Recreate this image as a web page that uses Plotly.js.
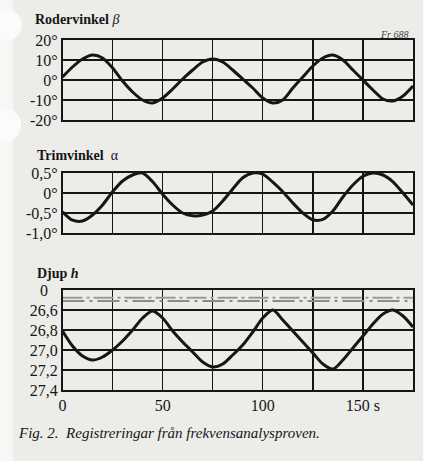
<!DOCTYPE html>
<html>
<head>
<meta charset="utf-8">
<script src="https://cdn.plot.ly/plotly-3.0.1.min.js"></script>
<style>html,body{margin:0;padding:0;background:#ecece9;}</style>
</head>
<body>
<div id="chart" style="width:423px;height:461px;"></div>
<script>
// time axis (s)
const time = [0,5,10,15,20,25,30,35,40,45,50,55,60,65,70,75,80,85,90,95,100,105,110,115,120,125,130,135,140,145,150,155,160,165,170,175];
// Rodervinkel beta (degrees)
const rudder = [1.5,6.5,10.5,12.5,11,6,-0.5,-6,-10,-11.5,-9,-4.5,0.5,5,9,10.5,9,5,0.5,-4,-9,-11.5,-10,-4,1.5,7,11,12.5,10,5,0,-5,-9.5,-10.5,-8,-3];
// Trimvinkel alpha (degrees)
const trim = [-0.47,-0.68,-0.7,-0.55,-0.3,0.03,0.3,0.45,0.5,0.28,-0.03,-0.3,-0.5,-0.57,-0.55,-0.45,-0.2,0.1,0.38,0.5,0.47,0.27,0.03,-0.25,-0.5,-0.67,-0.66,-0.45,-0.1,0.2,0.42,0.5,0.45,0.28,0.0,-0.3];
// Djup h (m)
const depth = [26.81,26.96,27.06,27.10,27.07,27.00,26.91,26.80,26.68,26.61,26.68,26.81,26.92,27.02,27.12,27.17,27.14,27.05,26.95,26.82,26.68,26.60,26.70,26.81,26.92,27.03,27.14,27.19,27.10,26.98,26.86,26.74,26.64,26.60,26.66,26.77];
// reference (surface) dashed lines in depth panel
const refLevels = [26.477, 26.51];

const timeTicks = [0,25,50,75,100,125,150,175];
const timeLabels = ['0','','50','','100','','150 s',''];
const rudderTicks = [-20,-10,0,10,20];
const rudderLabels = ['-20°','-10°','0°','10°','20°'];
const trimTicks = [-1,-0.5,0,0.5];
const trimLabels = ['-1,0°','-0,5°','0°','0,5°'];
const depthTicks = [26.6,26.8,27.0,27.2,27.4];
const depthLabels = ['26,6','26,8','27,0','27,2','27,4'];

const W = 423, H = 461;
const px = v => v / W;
const py = v => 1 - v / H;
const ink = '#161616';
const serif = "'Liberation Serif', 'Times New Roman', serif";

const curve = {color: ink, width: 3, shape: 'spline', smoothing: 0.8};
const traces = [
  {x: time, y: rudder, xaxis: 'x', yaxis: 'y', mode: 'lines', line: curve, hoverinfo: 'skip'},
  {x: time, y: trim, xaxis: 'x2', yaxis: 'y2', mode: 'lines', line: curve, hoverinfo: 'skip'},
  {x: time, y: depth, xaxis: 'x3', yaxis: 'y3', mode: 'lines', line: curve, hoverinfo: 'skip'},
  {x: [0,175], y: [refLevels[0], refLevels[0]], xaxis: 'x3', yaxis: 'y3', mode: 'lines',
   line: {color: '#9a9a9a', width: 2, dash: '20px,4px,3px,4px'}, hoverinfo: 'skip'},
  {x: [0,175], y: [refLevels[1], refLevels[1]], xaxis: 'x3', yaxis: 'y3', mode: 'lines',
   line: {color: '#8a8a8a', width: 2, dash: '22px,5px,3px,5px'}, hoverinfo: 'skip'}
];

const xdom = [px(62.5), px(413)];
function xax(anchor, labels) {
  return {
    domain: xdom, anchor: anchor, range: [0,175],
    tickmode: 'array', tickvals: timeTicks, ticktext: timeLabels,
    showticklabels: labels, ticks: '',
    showgrid: true, gridcolor: ink, gridwidth: 1.3,
    showline: true, mirror: true, linecolor: ink, linewidth: 1.6,
    zeroline: false, fixedrange: true,
    tickfont: {family: serif, size: 16, color: ink}
  };
}
function yax(anchor, dom, range, vals, text) {
  return {
    domain: dom, anchor: anchor, range: range,
    tickmode: 'array', tickvals: vals, ticktext: text, ticks: '',
    showgrid: true, gridcolor: ink, gridwidth: 1.3,
    showline: true, mirror: true, linecolor: ink, linewidth: 1.6,
    zeroline: false, fixedrange: true,
    tickfont: {family: serif, size: 16, color: ink}
  };
}

const layout = {
  width: W, height: H,
  margin: {l: 0, r: 0, t: 0, b: 0},
  paper_bgcolor: '#ecece9', plot_bgcolor: '#ecece9',
  showlegend: false,
  xaxis: xax('y', false),
  xaxis2: xax('y2', false),
  xaxis3: xax('y3', true),
  yaxis: yax('x', [py(120), py(40)], [-20,20], rudderTicks, rudderLabels),
  yaxis2: yax('x2', [py(233), py(173)], [-1,0.5], trimTicks, trimLabels),
  yaxis3: yax('x3', [py(390), py(290)], [27.4,26.4], depthTicks, depthLabels),
  shapes: [
    {type: 'rect', xref: 'paper', yref: 'paper', x0: 0, x1: px(13), y0: 0, y1: 1,
     fillcolor: '#f7f7f6', line: {width: 0}, layer: 'below'},
    {type: 'circle', xref: 'paper', yref: 'paper', x0: px(-8), x1: px(22), y0: py(40), y1: py(10),
     fillcolor: '#fbfbfb', line: {width: 0}, layer: 'below'},
    {type: 'circle', xref: 'paper', yref: 'paper', x0: px(-10), x1: px(21), y0: py(142), y1: py(108),
     fillcolor: '#fbfbfb', line: {width: 0}, layer: 'below'}
  ],
  annotations: [
    {text: '<b>Rodervinkel</b> <i>β</i>', xref: 'paper', yref: 'paper', x: px(33), y: py(19),
     xanchor: 'left', yanchor: 'middle', showarrow: false,
     font: {family: serif, size: 14, color: ink}},
    {text: '<b>Trimvinkel</b>  α', xref: 'paper', yref: 'paper', x: px(35), y: py(155),
     xanchor: 'left', yanchor: 'middle', showarrow: false,
     font: {family: serif, size: 14, color: ink}},
    {text: '<b>Djup <i>h</i></b>', xref: 'paper', yref: 'paper', x: px(35), y: py(273),
     xanchor: 'left', yanchor: 'middle', showarrow: false,
     font: {family: serif, size: 14, color: ink}},
    {text: '0', xref: 'paper', yref: 'paper', x: px(44), y: py(290),
     xanchor: 'center', yanchor: 'middle', showarrow: false,
     font: {family: serif, size: 16, color: ink}},
    {text: '<i>Fr 688</i>', xref: 'paper', yref: 'paper', x: px(411), y: py(35),
     xanchor: 'right', yanchor: 'middle', showarrow: false,
     font: {family: serif, size: 10, color: '#444'}},
    {text: '<i>Fig. 2.  Registreringar från frekvensanalysproven.</i>', xref: 'paper', yref: 'paper',
     x: px(16), y: py(433), xanchor: 'left', yanchor: 'middle', showarrow: false,
     font: {family: serif, size: 15, color: ink}}
  ]
};

Plotly.newPlot('chart', traces, layout, {staticPlot: true, displayModeBar: false});
</script>
</body>
</html>
